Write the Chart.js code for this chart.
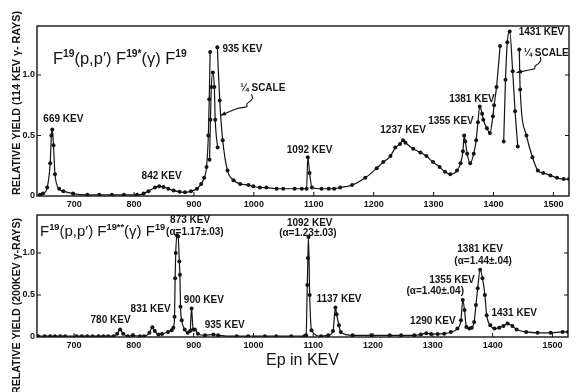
<!DOCTYPE html>
<html><head><meta charset="utf-8">
<script src="https://cdn.jsdelivr.net/npm/chart.js@4"></script>
<style>
html,body{margin:0;padding:0;background:#fff;}
#wrap{position:relative;width:577px;height:392px;overflow:hidden;background:#fff;}
.box{position:absolute;left:0;width:577px;}
</style></head><body>
<div id="wrap">
<div class="box" style="top:0;height:212px"><canvas id="c1"></canvas></div>
<div class="box" style="top:200px;height:192px"><canvas id="c2"></canvas></div>
</div>
<script>
// ---------- tick labels ----------
const xTickValues = [700, 800, 900, 1000, 1100, 1200, 1300, 1400, 1500];
const yTickValues = [0, 0.5, 1.0];

// ---------- top panel: 114 keV gamma rays ----------
const topMainX = [643,648,655,660,662,663.5,665.5,668,675,682,698,722,742,763,783,805,816,824,835,842,849,857,866,876,885,895,905,912,917,921,924,925.5,927,
  932,
  939,943,948,956,966,977,991,999,1010,1021,1038,1049,1068,1080,1088,1090,1093,1097,1113,1125,1134,1144,1164,1186,1205,1216,1228,1236,1244,1249,1253,1266,1278,1288,1299,1310,1319,1328,1339,1345,1349,1351,1353,1356,1361,1367,1371,1374,1377,1381,1383,1389,1394,1399,1401,1405,1411,
  1427,
  1443,1444.5,1455,1465,1474,1483,1495,1506,1517,1526];
const topMainY = [0.01,0.02,0.07,0.27,0.50,0.55,0.42,0.18,0.06,0.04,0.02,0.01,0.01,0.01,0.01,0.01,0.02,0.04,0.07,0.08,0.075,0.06,0.045,0.035,0.03,0.04,0.06,0.10,0.15,0.24,0.50,0.80,1.19,
  null,
  1.23,0.79,0.46,0.21,0.13,0.10,0.09,0.08,0.07,0.07,0.06,0.06,0.06,0.06,0.06,0.32,0.19,0.07,0.06,0.06,0.06,0.07,0.09,0.15,0.23,0.28,0.33,0.40,0.43,0.46,0.44,0.39,0.36,0.33,0.28,0.24,0.20,0.18,0.21,0.27,0.37,0.50,0.45,0.35,0.27,0.35,0.46,0.61,0.74,0.68,0.63,0.56,0.52,0.66,0.75,0.90,1.24,
  null,
  1.21,0.88,0.50,0.32,0.21,0.19,0.17,0.15,0.14,0.14];
// quarter-scale curves
const quarter935X = [926,927.5,929,931.5,934,935.5,939.5];
const quarter935Y = [0.30,0.63,0.90,1.02,0.90,0.63,0.40];
const quarter1431X = [1417,1420,1423,1427,1432,1436,1440.5];
const quarter1431Y = [0.45,0.96,1.27,1.36,1.03,0.70,0.41];

const topLabelText = ['669 KEV','842 KEV','935 KEV','¼ SCALE','1092 KEV','1237 KEV','1355 KEV','1381 KEV','1431 KEV','¼ SCALE'];
const topLabelX = [682,846,981,1015,1093,1249,1329,1364,1480,1488];
const topLabelY = [0.636,0.16,1.21,0.89,0.38,0.545,0.62,0.80,1.35,1.18];
const squiggle1X = [996,999,993,987,990,975,960,944];
const squiggle1Y = [0.84,0.81,0.78,0.76,0.735,0.73,0.70,0.665];
const squiggle2X = [1478,1480,1474,1468,1470,1458,1438];
const squiggle2Y = [1.15,1.12,1.09,1.07,1.05,1.04,1.02];

// ---------- bottom panel: 200 keV gamma rays ----------
const botX = [640,651,660,668,677,685,704,713,722,731,741,749,757,766,772,777,782,790,798,810,817,826,831,835,841,847,857,863,866,868,869,870,872,874,876,877,878,880,885,890,894,896.5,899,902,907,919,933,941,972,991,1019,1038,1063,1085,1088,1090,1091,1092,1094,1097,1113,1125,1133,1137,1139,1143,1146,1166,1197,1228,1247,1269,1280,1289,1297,1308,1319,1330,1341,1347,1350,1353,1356,1361,1365,1369,1372,1375,1379,1383,1387,1390,1396,1403,1411,1418,1425,1433,1440,1456,1475,1497,1517,1526];
const botY = [0.01,0.01,0.01,0.01,0.01,0.01,0.01,0.01,0.01,0.01,0.01,0.01,0.01,0.01,0.04,0.09,0.04,0.01,0.02,0.01,0.01,0.05,0.115,0.07,0.03,0.035,0.06,0.08,0.11,0.24,0.70,1.00,1.21,1.20,0.90,0.74,0.36,0.20,0.09,0.05,0.07,0.34,0.09,0.09,0.04,0.02,0.03,0.02,0.01,0.01,0.01,0.01,0.01,0.01,0.02,0.62,0.94,1.19,0.50,0.08,0.01,0.02,0.07,0.35,0.27,0.14,0.06,0.02,0.02,0.02,0.02,0.02,0.03,0.045,0.035,0.035,0.04,0.06,0.10,0.20,0.44,0.32,0.12,0.10,0.11,0.18,0.38,0.58,0.80,0.70,0.50,0.26,0.14,0.10,0.11,0.13,0.16,0.13,0.09,0.06,0.05,0.05,0.06,0.06];

const botLabelText = ['780 KEV','831 KEV','873 KEV','(α=1.17±.03)','900 KEV','935 KEV','1092 KEV','(α=1.23±.03)','1137 KEV','1290 KEV','1355 KEV','(α=1.40±.04)','1381 KEV','(α=1.44±.04)','1431 KEV'];
const botLabelX = [761,828,894,902,917,952,1094,1091,1143,1300,1332,1304,1379,1384,1436];
const botLabelY = [0.20,0.33,1.39,1.25,0.44,0.14,1.35,1.23,0.45,0.19,0.68,0.55,1.04,0.90,0.28];

// ---------- helpers ----------
const pts = (xs, ys) => xs.map((x, i) => ({x: x, y: ys[i]}));
const INK = '#141414';
const FONT = "'Liberation Sans', Arial, sans-serif";

function lineDS(xs, ys) {
  return {
    data: pts(xs, ys), borderColor: INK, borderWidth: 1.2,
    pointRadius: 2, pointBackgroundColor: INK, pointBorderWidth: 0, pointHoverRadius: 2,
    cubicInterpolationMode: 'monotone', spanGaps: false, fill: false
  };
}

function drawRich(ctx, x, y, parts, size) {
  ctx.textAlign = 'left'; ctx.textBaseline = 'alphabetic';
  let cx = x;
  parts.forEach(p => {
    const s = p[1] ? size * 0.62 : size;
    ctx.font = (p[1] ? 'bold ' : '') + s + 'px ' + FONT;
    ctx.fillText(p[0], cx, p[1] ? y - size * 0.42 : y);
    cx += ctx.measureText(p[0]).width;
  });
}

function drawSquiggle(ctx, xs, ys, sx, sy) {
  const P = xs.map((v, i) => [sx.getPixelForValue(v), sy.getPixelForValue(ys[i])]);
  ctx.beginPath();
  ctx.moveTo(P[0][0], P[0][1]);
  for (let i = 1; i < P.length - 1; i++) {
    const mx = (P[i][0] + P[i + 1][0]) / 2, my = (P[i][1] + P[i + 1][1]) / 2;
    ctx.quadraticCurveTo(P[i][0], P[i][1], mx, my);
  }
  const e = P[P.length - 1], b = P[P.length - 2];
  ctx.lineTo(e[0], e[1]);
  ctx.stroke();
  const ang = Math.atan2(e[1] - b[1], e[0] - b[0]);
  ctx.beginPath();
  ctx.moveTo(e[0], e[1]);
  ctx.lineTo(e[0] - 6 * Math.cos(ang - 0.35), e[1] - 6 * Math.sin(ang - 0.35));
  ctx.lineTo(e[0] - 6 * Math.cos(ang + 0.35), e[1] - 6 * Math.sin(ang + 0.35));
  ctx.closePath(); ctx.fill();
}

function panelPlugin(cfg) {
  return {
    id: 'panelDecor',
    afterDatasetsDraw(chart) {
      const ctx = chart.ctx, a = chart.chartArea, sx = chart.scales.x, sy = chart.scales.y;
      ctx.save();
      ctx.strokeStyle = INK; ctx.fillStyle = INK;
      // frame
      ctx.lineWidth = 1.4;
      ctx.strokeRect(a.left, a.top, a.right - a.left, a.bottom - a.top);
      // inward ticks
      ctx.lineWidth = 1;
      ctx.beginPath();
      sx.ticks.forEach(t => { const p = sx.getPixelForValue(t.value); ctx.moveTo(p, a.bottom); ctx.lineTo(p, a.bottom - 4); });
      sy.ticks.forEach(t => { if (t.value === 0) return; const p = sy.getPixelForValue(t.value);
        ctx.moveTo(a.left, p); ctx.lineTo(a.left + 4, p); ctx.moveTo(a.right, p); ctx.lineTo(a.right - 4, p); });
      ctx.stroke();
      // peak labels
      ctx.font = 'bold 10px ' + FONT; ctx.textAlign = 'center'; ctx.textBaseline = 'middle';
      cfg.labelText.forEach((t, i) => ctx.fillText(t, sx.getPixelForValue(cfg.labelX[i]), sy.getPixelForValue(cfg.labelY[i])));
      // squiggle arrows
      ctx.lineWidth = 1.1;
      (cfg.squiggles || []).forEach(s => drawSquiggle(ctx, s[0], s[1], sx, sy));
      // reaction formula
      drawRich(ctx, a.left + cfg.formulaDX, a.top + cfg.formulaDY, cfg.formula, cfg.formulaSize);
      // rotated y title, condensed to its printed length
      ctx.save();
      ctx.font = 'bold 10px ' + FONT; ctx.textAlign = 'center'; ctx.textBaseline = 'middle';
      const w = ctx.measureText(cfg.yTitle).width;
      ctx.translate(17, cfg.yTitleY);
      ctx.rotate(-Math.PI / 2);
      ctx.scale(cfg.yTitleLen / w, 1);
      ctx.fillText(cfg.yTitle, 0, 0);
      ctx.restore();
      ctx.restore();
    }
  };
}

function makeChart(id, datasets, opt) {
  return new Chart(document.getElementById(id), {
    type: 'line',
    data: { datasets: datasets },
    options: {
      responsive: true, maintainAspectRatio: false, animation: false, devicePixelRatio: 1,
      layout: { padding: opt.padding },
      plugins: { legend: { display: false }, tooltip: { enabled: false } },
      events: [],
      scales: {
        x: {
          type: 'linear', min: 638, max: 1526,
          grid: { display: false, drawTicks: false }, border: { display: false },
          afterBuildTicks: s => { s.ticks = xTickValues.map(v => ({ value: v })); },
          afterFit: s => { s.height = opt.xHeight; },
          ticks: { color: INK, padding: 3, font: { family: FONT, size: 9, weight: 'bold' }, maxRotation: 0, autoSkip: false,
                   callback: v => String(v) },
          title: opt.xTitle ? { display: true, text: opt.xTitle, color: INK, font: { family: FONT, size: 16 }, padding: { top: 0, bottom: 22 } } : { display: false }
        },
        y: {
          type: 'linear', min: 0, max: opt.yMax,
          grid: { display: false, drawTicks: false }, border: { display: false },
          afterBuildTicks: s => { s.ticks = yTickValues.map(v => ({ value: v })); },
          afterFit: s => { s.width = 37; },
          ticks: { color: INK, padding: 2, font: { family: FONT, size: 9, weight: 'bold' },
                   callback: v => v === 0 ? '0' : Number(v).toFixed(1) }
        }
      }
    },
    plugins: [panelPlugin(opt.decor)]
  });
}

makeChart('c1',
  [lineDS(topMainX, topMainY), lineDS(quarter935X, quarter935Y), lineDS(quarter1431X, quarter1431Y)],
  { padding: { left: 0, right: 8, top: 26, bottom: 0 }, xHeight: 16, yMax: 1.405,
    decor: { labelText: topLabelText, labelX: topLabelX, labelY: topLabelY,
      squiggles: [[squiggle1X, squiggle1Y], [squiggle2X, squiggle2Y]],
      formula: [['F',0],['19',1],['(p,p′) F',0],['19*',1],['(γ) F',0],['19',1]], formulaDX: 16, formulaDY: 38, formulaSize: 16.5,
      yTitle: 'RELATIVE YIELD (114 KEV γ- RAYS)', yTitleY: 103, yTitleLen: 184 } });

makeChart('c2',
  [lineDS(botX, botY)],
  { padding: { left: 0, right: 9, top: 15, bottom: 0 }, xHeight: 55, yMax: 1.452, xTitle: 'Ep in KEV',
    decor: { labelText: botLabelText, labelX: botLabelX, labelY: botLabelY, squiggles: [],
      formula: [['F',0],['19',1],['(p,p′) F',0],['19**',1],['(γ) F',0],['19',1]], formulaDX: 3, formulaDY: 21, formulaSize: 15,
      yTitle: 'RELATIVE YIELD (200KEV γ-RAYS)', yTitleY: 106, yTitleLen: 176 } });
</script>
</body></html>
